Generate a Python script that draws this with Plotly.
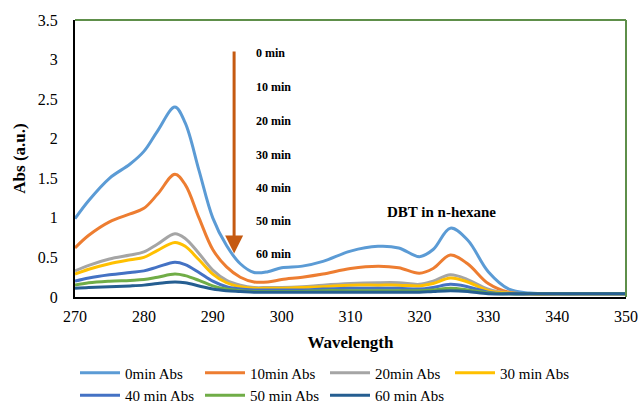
import plotly.graph_objects as go

wavelength = [270, 272, 275, 278, 280, 282, 284.5, 286, 288, 290, 292, 294, 296, 298, 300, 303, 306,
              310, 314, 317, 320, 322, 324.5, 327, 330, 333, 336, 340, 345, 350]

abs_0 = [0.99, 1.22, 1.50, 1.68, 1.84, 2.10, 2.40, 2.20, 1.60, 1.00, 0.65, 0.42, 0.31, 0.32, 0.37, 0.39, 0.45,
         0.58, 0.64, 0.62, 0.51, 0.60, 0.87, 0.72, 0.32, 0.10, 0.05, 0.04, 0.04, 0.04]
abs_10 = [0.62, 0.78, 0.95, 1.05, 1.12, 1.30, 1.55, 1.42, 1.00, 0.60, 0.38, 0.25, 0.19, 0.19, 0.22, 0.25, 0.29,
          0.36, 0.39, 0.37, 0.30, 0.36, 0.53, 0.42, 0.17, 0.06, 0.04, 0.04, 0.04, 0.04]
abs_20 = [0.33, 0.40, 0.48, 0.53, 0.57, 0.67, 0.80, 0.74, 0.55, 0.34, 0.21, 0.15, 0.12, 0.12, 0.12, 0.13, 0.15,
          0.17, 0.18, 0.18, 0.16, 0.20, 0.28, 0.22, 0.10, 0.05, 0.04, 0.04, 0.04, 0.04]
abs_30 = [0.29, 0.35, 0.42, 0.47, 0.50, 0.59, 0.69, 0.64, 0.47, 0.29, 0.18, 0.13, 0.11, 0.11, 0.11, 0.12, 0.13,
          0.15, 0.15, 0.15, 0.14, 0.17, 0.24, 0.19, 0.08, 0.05, 0.04, 0.04, 0.04, 0.04]
abs_40 = [0.20, 0.24, 0.28, 0.31, 0.33, 0.38, 0.44, 0.41, 0.31, 0.20, 0.13, 0.10, 0.09, 0.09, 0.09, 0.09, 0.10,
          0.11, 0.11, 0.11, 0.10, 0.12, 0.16, 0.13, 0.06, 0.04, 0.04, 0.04, 0.04, 0.04]
abs_50 = [0.15, 0.18, 0.20, 0.21, 0.22, 0.25, 0.29, 0.27, 0.21, 0.14, 0.10, 0.08, 0.07, 0.07, 0.07, 0.07, 0.08,
          0.08, 0.08, 0.08, 0.08, 0.09, 0.11, 0.09, 0.05, 0.04, 0.04, 0.04, 0.04, 0.04]
abs_60 = [0.11, 0.12, 0.13, 0.14, 0.15, 0.17, 0.19, 0.18, 0.14, 0.10, 0.08, 0.07, 0.06, 0.06, 0.06, 0.06, 0.06,
          0.06, 0.06, 0.06, 0.06, 0.07, 0.08, 0.07, 0.04, 0.04, 0.04, 0.04, 0.04, 0.04]

series_names = ["0min Abs", "10min Abs", "20min Abs", "30 min Abs", "40 min Abs", "50 min Abs", "60 min Abs"]
series_values = [abs_0, abs_10, abs_20, abs_30, abs_40, abs_50, abs_60]
colors = ["#5B9BD5", "#ED7D31", "#A5A5A5", "#FFC000", "#4472C4", "#70AD47", "#255E91"]

time_labels = ["0 min", "10 min", "20 min", "30 min", "40 min", "50 min", "60 min"]
time_label_y = [3.08, 2.65, 2.22, 1.80, 1.38, 0.96, 0.54]

y_ticks = [0, 0.5, 1, 1.5, 2, 2.5, 3, 3.5]
y_tick_text = ["0", "0.5", "1", "1.5", "2", "2.5", "3", "3.5"]
x_ticks = [270, 280, 290, 300, 310, 320, 330, 340, 350]

serif = "'Times New Roman', 'Liberation Serif', 'DejaVu Serif', serif"

fig = go.Figure()
for name, vals, col in zip(series_names, series_values, colors):
    fig.add_trace(go.Scatter(x=wavelength, y=vals, name=name, mode="lines",
                             line=dict(color=col, width=3, shape="spline", smoothing=1.0)))

# time labels
for lbl, yy in zip(time_labels, time_label_y):
    fig.add_annotation(x=296.0, y=yy, text="<b>" + lbl + "</b>", showarrow=False, xanchor="left",
                       font=dict(family=serif, size=12, color="black"))

# arrow
fig.add_annotation(x=293.1, y=0.55, ax=293.1, ay=3.12, xref="x", yref="y", axref="x", ayref="y",
                   text="", showarrow=True, arrowhead=2, arrowsize=1.2, arrowwidth=3, arrowcolor="#C55A11")

fig.add_annotation(x=323.2, y=1.07, text="<b>DBT in n-hexane</b>", showarrow=False,
                   font=dict(family=serif, size=15, color="black"))

# top & right green frame
fig.add_shape(type="line", xref="paper", yref="paper", x0=0, x1=1, y0=1, y1=1,
              line=dict(color="#5E8F4A", width=2))
fig.add_shape(type="line", xref="paper", yref="paper", x0=1, x1=1, y0=0, y1=1,
              line=dict(color="#5E8F4A", width=2))

fig.update_layout(
    width=640, height=408,
    margin=dict(l=75, r=14, t=20, b=111, autoexpand=False),
    paper_bgcolor="white", plot_bgcolor="white",
    font=dict(family=serif, size=16, color="black"),
    showlegend=True,
    legend=dict(orientation="h", x=0.0, y=-0.215, xanchor="left", yanchor="top",
                entrywidth=70, entrywidthmode="pixels", tracegroupgap=0,
                font=dict(family=serif, size=15, color="black"), itemwidth=40),
    xaxis=dict(range=[270, 350], tickvals=x_ticks, showgrid=False, zeroline=False,
               showline=True, linecolor="black", linewidth=2, ticks="outside", ticklen=4,
               tickcolor="rgba(0,0,0,0)",
               title=dict(text="<b>Wavelength</b>", font=dict(family=serif, size=17), standoff=12)),
    yaxis=dict(range=[0, 3.5], tickvals=y_ticks, ticktext=y_tick_text, showgrid=False, zeroline=False,
               showline=True, linecolor="black", linewidth=2, ticks="outside", ticklen=12,
               tickcolor="rgba(0,0,0,0)",
               title=dict(text="<b>Abs (a.u.)</b>", font=dict(family=serif, size=17), standoff=8)),
)

fig.write_html("out.html")
